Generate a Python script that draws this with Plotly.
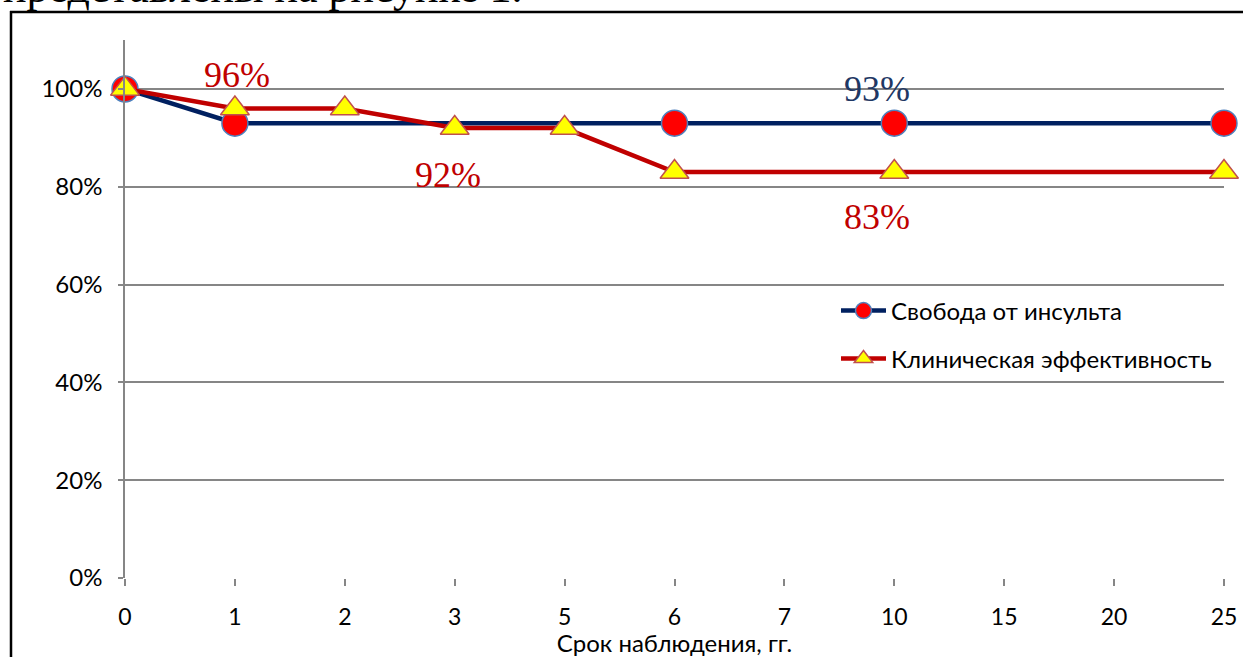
import plotly.graph_objects as go

categories = ['0', '1', '2', '3', '5', '6', '7', '10', '15', '20', '25']
stroke_free = [1.00, 0.93, None, None, None, 0.93, None, 0.93, None, None, 0.93]
clinical_eff = [1.00, 0.96, 0.96, 0.92, 0.92, 0.83, None, 0.83, None, None, 0.83]
y_ticks = [0, 0.2, 0.4, 0.6, 0.8, 1.0]
y_tick_labels = ['0%', '20%', '40%', '60%', '80%', '100%']
name_stroke = 'Свобода от инсульта'
name_clin = 'Клиническая эффективность'
x_title = 'Срок наблюдения, гг.'
header_text = 'представлены на рисунке 1.'

W, H = 1243, 657
L, R, T, B = 125, 19, 40, 79
pw = W - L - R
ph = H - T - B

def px2x(px):
    return (px - L) / pw

def py2y(py):
    return (H - B - py) / ph

SANS = 'Lato, Carlito, Calibri, sans-serif'
SERIF = 'Liberation Serif, Times New Roman, serif'
FS = 24

fig = go.Figure()
fig.add_trace(go.Scatter(
    x=categories, y=stroke_free, name=name_stroke, mode='lines+markers',
    connectgaps=True, cliponaxis=False, showlegend=True,
    line=dict(color='#002060', width=4.5),
    marker=dict(symbol='circle', size=26, color='#FF0000',
                line=dict(color='#4F81BD', width=1.5)),
    legend='legend',
))
fig.add_trace(go.Scatter(
    x=categories, y=clinical_eff, name=name_clin, mode='lines+markers',
    connectgaps=True, cliponaxis=False, showlegend=True,
    line=dict(color='#C00000', width=4.5),
    marker=dict(symbol='triangle-up', size=25, color='#FFFF00',
                line=dict(color='#C0504D', width=1.5)),
    legend='legend2',
))

i1 = categories.index('1')
i3 = categories.index('3')
i10 = categories.index('10')
annotations = [
    dict(x=i1, y=clinical_eff[i1], text='96%', xshift=2, yshift=33,
         font=dict(family=SERIF, size=36, color='#C00000')),
    dict(x=i10, y=stroke_free[i10], text='93%', xshift=-17, yshift=34,
         font=dict(family=SERIF, size=36, color='#1F3864')),
    dict(x=i3, y=clinical_eff[i3], text='92%', xshift=-7, yshift=-47,
         font=dict(family=SERIF, size=36, color='#C00000')),
    dict(x=i10, y=clinical_eff[i10], text='83%', xshift=-17, yshift=-45,
         font=dict(family=SERIF, size=36, color='#C00000')),
]
for a in annotations:
    a.update(xref='x', yref='y', showarrow=False, xanchor='center', yanchor='middle')

annotations.append(dict(
    xref='paper', yref='paper', x=px2x(1), y=py2y(14), xanchor='left', yanchor='bottom',
    text=header_text, showarrow=False,
    font=dict(family=SERIF, size=44, color='#000000'),
))

shapes = [
    dict(type='line', xref='paper', yref='paper', x0=px2x(11), x1=px2x(11),
         y0=py2y(11), y1=py2y(H + 5), line=dict(color='#000000', width=2.5)),
    dict(type='line', xref='paper', yref='paper', x0=px2x(10), x1=px2x(W + 5),
         y0=py2y(12), y1=py2y(12), line=dict(color='#000000', width=2.5)),
]

fig.update_layout(
    width=W, height=H,
    margin=dict(l=L, r=R, t=T, b=B, pad=0, autoexpand=False),
    paper_bgcolor='white', plot_bgcolor='white',
    font=dict(family=SANS, size=FS, color='#000000'),
    annotations=annotations,
    shapes=shapes,
    showlegend=True,
    legend=dict(x=px2x(836), y=py2y(311), xanchor='left', yanchor='middle',
                bgcolor='rgba(0,0,0,0)', font=dict(family=SANS, size=FS),
                itemwidth=45),
    legend2=dict(x=px2x(836), y=py2y(359), xanchor='left', yanchor='middle',
                 bgcolor='rgba(0,0,0,0)', font=dict(family=SANS, size=FS),
                 itemwidth=45),
    xaxis=dict(
        type='category', categoryorder='array', categoryarray=categories,
        range=[0, len(categories) - 1],
        showgrid=False, zeroline=False,
        showline=False, ticks='outside', ticklen=7, tickwidth=1.5, tickcolor='#868686',
        tickfont=dict(family=SANS, size=23, color='#000000'),
        ticklabelstandoff=11,
        title=dict(text=x_title, font=dict(family=SANS, size=FS, color='#000000'), standoff=2),
    ),
    yaxis=dict(
        range=[0, 1.1], tickvals=y_ticks, ticktext=y_tick_labels,
        showgrid=True, gridcolor='#868686', gridwidth=1.5,
        zeroline=False,
        showline=True, linecolor='#868686', linewidth=1.5,
        ticks='outside', ticklen=5, tickwidth=1.5, tickcolor='#868686',
        tickfont=dict(family=SANS, size=FS, color='#000000'),
        ticklabelstandoff=11,
    ),
)

fig.write_html(
    'out.html',
    config={'displayModeBar': False},
    post_script="document.body.style.margin='0';document.body.style.overflow='hidden';",
)
